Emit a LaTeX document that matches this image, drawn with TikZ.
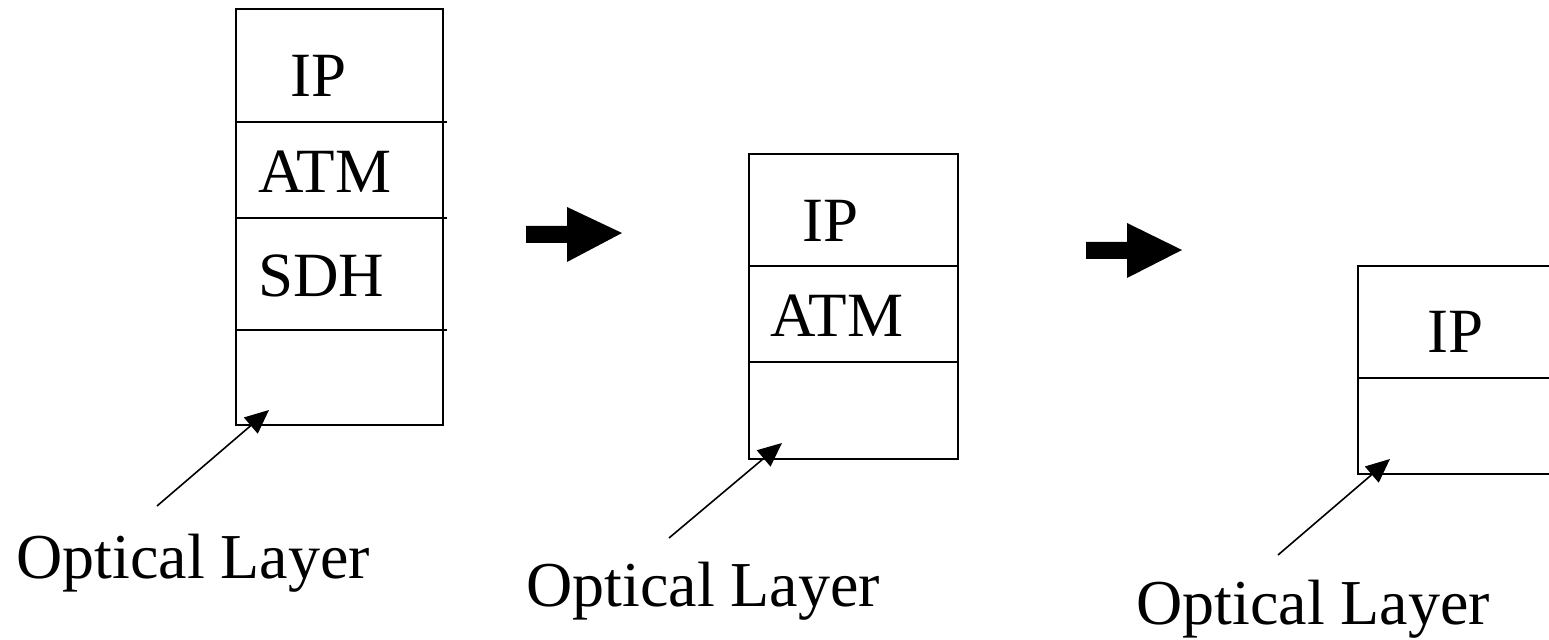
\documentclass[tikz,border=0pt]{standalone}
\usepackage{fontspec}
\setmainfont{Liberation Serif}
\usetikzlibrary{arrows.meta}
\begin{document}
\begin{tikzpicture}[x=0.5pt,y=-0.5pt,
  layer/.style={draw, line width=1pt, rectangle, anchor=north west, inner sep=0pt, outer sep=0pt},
  txt/.style={anchor=base west, inner sep=0pt, font=\fontsize{31.5}{38}\selectfont},
  lbl/.style={anchor=base west, inner sep=0pt, font=\fontsize{32}{38}\selectfont},
  pointer/.style={line width=0.8pt, -{Triangle[length=12pt,width=10.5pt]}},
  bigarrow/.style={fill=black}]
\useasboundingbox (0,0) rectangle (1549,640);
\clip (0,0) rectangle (1549,640);
% stack 1
\node[layer, minimum width=103.5pt, minimum height=56.5pt] (s1ip) at (236,9) {};
\node[layer, minimum width=103.5pt, minimum height=48pt] (s1atm) at (236,122) {};
\node[layer, minimum width=103.5pt, minimum height=56pt] (s1sdh) at (236,218) {};
\node[layer, minimum width=103.5pt, minimum height=47.5pt] (s1opt) at (236,330) {};
\draw[line width=1pt] (s1atm.north east) -- ++(4,0);
\draw[line width=1pt] (s1sdh.north east) -- ++(4,0);
\draw[line width=1pt] (s1opt.north east) -- ++(4,0);
\node[txt] (t1ip) at (290,97) {IP};
\node[txt] (t1atm) at (258,193) {ATM};
\node[txt] (t1sdh) at (258,297) {SDH};
% stack 2
\node[layer, minimum width=104.5pt, minimum height=56pt] (s2ip) at (749,154) {};
\node[layer, minimum width=104.5pt, minimum height=48pt] (s2atm) at (749,266) {};
\node[layer, minimum width=104.5pt, minimum height=48.5pt] (s2opt) at (749,362) {};
\node[txt] (t2ip) at (802,242) {IP};
\node[txt] (t2atm) at (770,337) {ATM};
% stack 3
\node[layer, minimum width=110pt, minimum height=56pt] (s3ip) at (1358,266) {};
\node[layer, minimum width=110pt, minimum height=48pt] (s3opt) at (1358,378) {};
\node[txt] (t3ip) at (1427,353) {IP};
% big arrows
\fill[bigarrow] (526,226) -- (567,226) -- (567,207) -- (622,233) -- (567,262) -- (567,243) -- (526,243) -- cycle;
\fill[bigarrow] (1086,242) -- (1127,242) -- (1127,223) -- (1182,250) -- (1127,278) -- (1127,259) -- (1086,259) -- cycle;
% labels
\node[lbl] (l1) at (16,579) {Optical Layer};
\node[lbl] (l2) at (526,607) {Optical Layer};
\node[lbl] (l3) at (1136,625) {Optical Layer};
% pointers
\coordinate (p1s) at (157,506);
\coordinate (p1t) at (269,410);
\coordinate (p2s) at (669,538);
\coordinate (p2t) at (782,443);
\coordinate (p3s) at (1278,555);
\coordinate (p3t) at (1390,459);
\draw[pointer] (p1s) -- (p1t);
\draw[pointer] (p2s) -- (p2t);
\draw[pointer] (p3s) -- (p3t);
\end{tikzpicture}
\end{document}
